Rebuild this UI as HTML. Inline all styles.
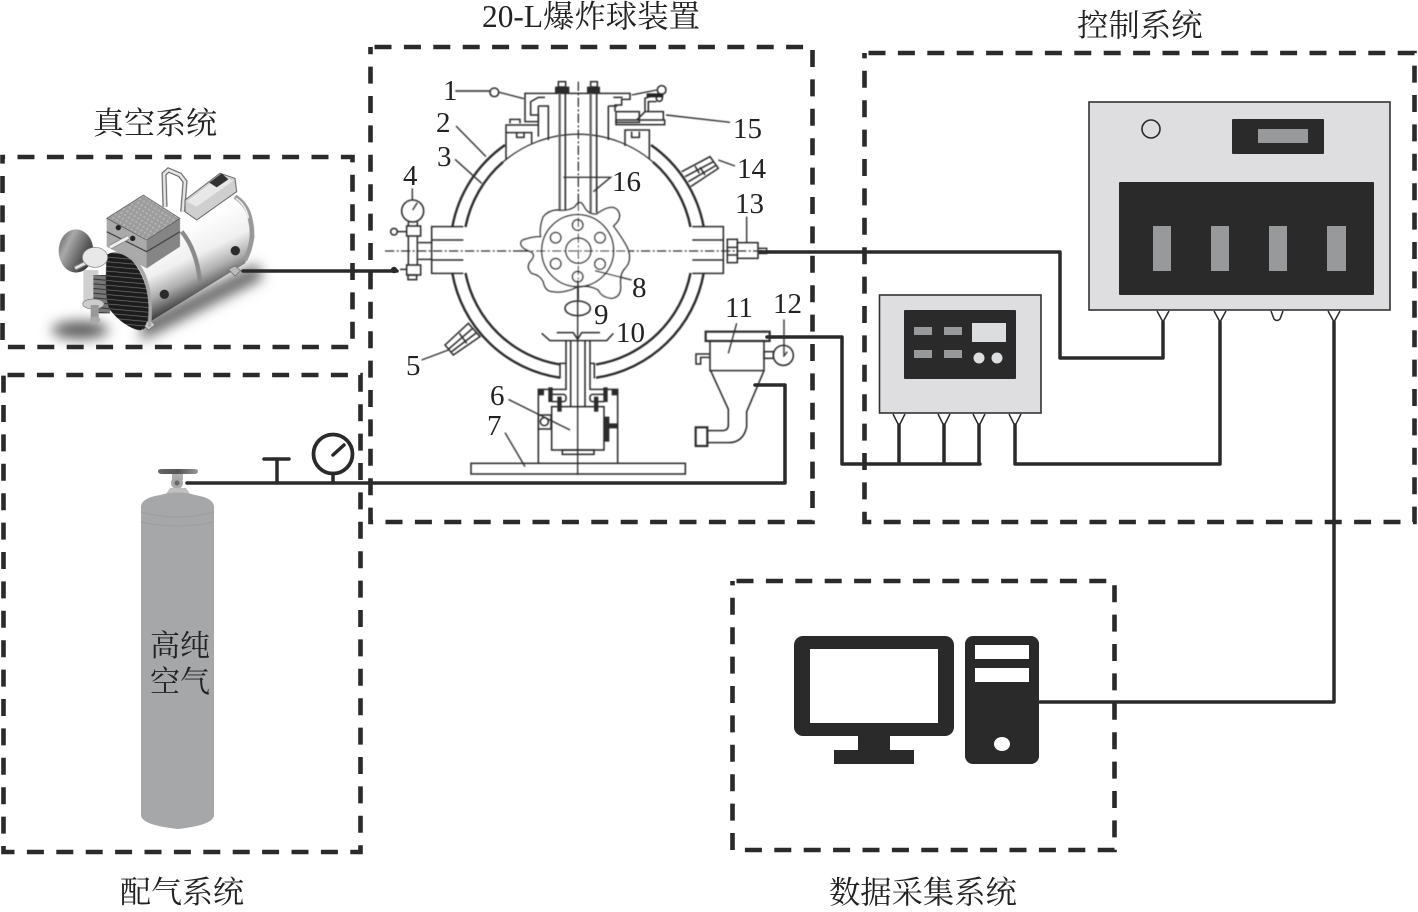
<!DOCTYPE html>
<html><head><meta charset="utf-8"><style>
html,body{margin:0;padding:0;background:#fff}
svg{display:block}
.cn{font-family:"Liberation Serif","Noto Serif CJK SC",serif;font-size:30px;fill:#222}
.n{font-family:"Liberation Serif",serif;font-size:29px;fill:#222}
.d{fill:none;stroke:#2b2a2b;stroke-width:4.6;stroke-dasharray:17 12.4}
.w{fill:none;stroke:#2b2a2b;stroke-width:3.5;stroke-linecap:round;stroke-linejoin:round}
.t{fill:none;stroke:#2b2b2b;stroke-width:4.6}
.t2{fill:none;stroke:#2b2b2b;stroke-width:6.5}
.l{fill:none;stroke:#333;stroke-width:4.2}
.y{fill:#fff;stroke:#2b2a2b;stroke-width:1.5}
.k{fill:#2b2a2b}
.g{fill:#98999b}
</style></head><body>
<svg xmlns="http://www.w3.org/2000/svg" width="1418" height="912" viewBox="0 0 1418 912">
<defs>
<filter id="b" x="-60%" y="-100%" width="220%" height="300%"><feGaussianBlur stdDeviation="20"/></filter>
<filter id="s"><feGaussianBlur stdDeviation="0.4"/></filter>
<linearGradient id="mot" gradientUnits="userSpaceOnUse" x1="530" y1="240" x2="625" y2="440">
<stop offset="0" stop-color="#fff"/><stop offset=".42" stop-color="#f0f0f0"/><stop offset=".68" stop-color="#b0b0b0"/><stop offset="1" stop-color="#2e2e2e"/></linearGradient>
<linearGradient id="gau" x1="0" y1="0" x2="1" y2=".6"><stop offset="0" stop-color="#555"/><stop offset=".35" stop-color="#aaa"/><stop offset=".7" stop-color="#666"/><stop offset="1" stop-color="#333"/></linearGradient>
<linearGradient id="hd" x1="0" x2="1" y1="0" y2="0"><stop offset="0" stop-color="#666"/><stop offset=".5" stop-color="#555"/><stop offset="1" stop-color="#999"/></linearGradient>
<pattern id="gr" width="14" height="14" patternUnits="userSpaceOnUse" patternTransform="rotate(5)"><rect width="14" height="14" fill="#1f1f1f"/><rect y="11" width="14" height="2" fill="#777"/></pattern>
<pattern id="gr2" width="14" height="14" patternUnits="userSpaceOnUse" patternTransform="rotate(5)"><rect width="14" height="14" fill="#777"/><rect y="10" width="14" height="3" fill="#333"/></pattern>
<pattern id="dots" width="13" height="13" patternUnits="userSpaceOnUse" patternTransform="rotate(32)"><rect width="13" height="13" fill="#9c9c9c"/><circle cx="6" cy="6" r="3.5" fill="#b5b5b5"/></pattern>
</defs>

<!-- titles -->
<text x="482" y="27" class="cn" style="font-size:31.4px">20-L爆炸球装置</text>
<text x="1077" y="36" class="cn" style="font-size:31.4px">控制系统</text>
<text x="93" y="134" class="cn" style="font-size:31px">真空系统</text>
<text x="120" y="903" class="cn" style="font-size:31px">配气系统</text>
<text x="829" y="903" class="cn" style="font-size:31.3px">数据采集系统</text>

<!-- pump -->
<g transform="translate(0,150) scale(.33333)" filter="url(#s)">
<ellipse cx="240" cy="540" rx="85" ry="26" fill="#555" filter="url(#b)"/>
<polygon points="420,575 790,385 770,340 430,510" fill="#666" filter="url(#b)"/>
<path d="M400,330 L540,235 L700,140 L745,170 L765,260 L735,340 L450,515 L430,540 Z" fill="url(#mot)"/>
<path d="M705,140 Q745,165 752,215 Q765,270 735,330" fill="none" stroke="#999" stroke-width="14"/>
<path d="M708,145 Q738,165 745,205" fill="none" stroke="#eee" stroke-width="5"/>
<path d="M545,245 Q590,300 600,395" fill="none" stroke="#8a8a8a" stroke-width="13"/>
<circle cx="493" cy="433" r="14" fill="#2a2a2a"/><circle cx="706" cy="302" r="14" fill="#2a2a2a"/>
<polygon points="685,358 705,348 722,362 705,378" fill="#bbb" stroke="#666" stroke-width="2"/>
<polygon points="430,525 450,508 465,525 445,540" fill="#ccc" stroke="#666" stroke-width="2"/>
<path d="M495,170 L492,72 L505,60 L540,75 L555,95 L548,185" fill="none" stroke="#666" stroke-width="15"/>
<path d="M495,170 L492,72 L505,60 L540,75 L555,95 L548,185" fill="none" stroke="#e5e5e5" stroke-width="8"/>
<polygon points="555,150 660,70 705,85 710,125 590,210 555,185" fill="#cfcfcf" stroke="#666" stroke-width="3"/>
<polygon points="560,155 660,78 700,92 590,170" fill="#e8e8e8"/>
<polygon points="628,98 665,70 685,88 650,112" fill="#333"/>
<polygon points="320,205 440,270 440,355 320,290" fill="#aaa"/>
<polygon points="440,270 540,205 540,290 440,355" fill="#858585"/>
<path d="M320,245 L440,305 L540,245" fill="none" stroke="#444" stroke-width="4"/>
<polygon points="320,205 430,135 540,205 440,270" fill="url(#dots)" stroke="#555" stroke-width="2"/>
<circle cx="355" cy="233" r="8" fill="#222"/><circle cx="398" cy="265" r="8" fill="#222"/>
<path d="M330,292 L385,262" stroke="#888" stroke-width="14"/><path d="M330,292 L385,262" stroke="#eee" stroke-width="9"/>
<rect x="250" y="360" width="45" height="110" fill="#d0d0d0"/>
<path d="M280,375 H330 V490 H280 Z" fill="url(#gr2)"/>
<path d="M320,315 Q345,295 390,325 Q435,370 445,450 Q450,530 420,542 Q370,530 330,480 Q312,450 320,315Z" fill="url(#gr)"/>
<path d="M350,303 Q405,315 432,375 Q458,440 448,530" fill="none" stroke="#a8a8a8" stroke-width="10"/>
<ellipse cx="228" cy="303" rx="52" ry="65" fill="url(#gau)"/>
<path d="M225,355 L275,330" stroke="#777" stroke-width="15"/><path d="M225,355 L275,330" stroke="#e5e5e5" stroke-width="8"/>
<ellipse cx="285" cy="322" rx="38" ry="30" fill="#e8e8e8" stroke="#777" stroke-width="2"/>
<ellipse cx="280" cy="462" rx="32" ry="15" fill="#ccc" stroke="#777" stroke-width="2"/>
<rect x="272" y="465" width="24" height="40" fill="#999"/><ellipse cx="285" cy="510" rx="16" ry="10" fill="#aaa"/>
</g>

<!-- sphere -->
<g filter="url(#s)">
<g fill="none" stroke="#2b2b2b" stroke-width="2.4">
<path d="M505,145 A128,128 0 0 0 452.3,227"/>
<path d="M651,145 A128,128 0 0 1 703.7,227"/>
<path d="M452.3,273 A128,128 0 0 0 560,377.7"/>
<path d="M703.7,273 A128,128 0 0 1 596,377.7"/>
<path d="M465.5,227 A115,115 0 0 1 503,162" />
<path d="M690.5,227 A115,115 0 0 0 653,162"/>
<path d="M465.5,273 A115,115 0 0 0 560,364.5"/>
<path d="M690.5,273 A115,115 0 0 1 596,364.5"/>
</g>
<path d="M503,162 A115,115 0 0 1 653,162" fill="none" stroke="#333" stroke-width="1.3"/>

<g transform="translate(380,60) scale(.33333)">
<path d="M15,573 H1150" fill="none" stroke="#333" stroke-width="4" stroke-dasharray="28 7 6 7"/>
<path d="M595,65 V720" fill="none" stroke="#333" stroke-width="4" stroke-dasharray="28 7 6 7"/>
<path class="t" d="M435,118 V100 H750 V118 H725 V135 H705 V155"/>
<path class="t" d="M435,118 V185 H475 V165 H452 V125 L475,112 H495"/>
<path class="t" d="M475,138 H505 V240 M475,138 V230 M685,138 V240 M685,138 H712 M700,112 L728,112"/>
<path class="t" d="M378,298 V195 H475 M378,218 H455 V250 M410,218 V232 H432 V218 M390,190 V178 H420 V190"/>
<path class="t" d="M808,298 V210 H735 V258 M755,215 V232 H778 V215"/>
<rect class="t" x="708" y="155" width="70" height="32"/><rect class="t" x="708" y="180" width="146" height="14"/>
<path class="t" d="M770,180 L795,155 H850 V180 M795,155 V115 L815,108 H838 M805,155 V125 H830"/>
<circle class="t" cx="845" cy="90" r="13"/><circle class="t" cx="838" cy="115" r="9"/>
<rect x="800" y="100" width="50" height="12" fill="#222"/>
<path class="l" d="M755,105 L830,90"/>
<rect class="t" x="535" y="65" width="22" height="16"/><rect class="t" x="632" y="65" width="20" height="16"/>
<rect class="k" x="525" y="80" width="43" height="21"/><rect class="k" x="621" y="80" width="39" height="21"/>
<path d="M539,100 V450 M632,100 V458" stroke="#666" stroke-width="7" fill="none"/>
<path d="M556,100 V450 M650,100 V458" stroke="#333" stroke-width="5" fill="none"/>
<circle class="t" cx="98" cy="453" r="33"/><path class="l" d="M98,450 L112,428"/>
<rect class="t" x="80" y="498" width="42" height="30"/><rect class="t" x="80" y="615" width="42" height="30"/><rect class="t" x="84" y="645" width="26" height="14"/>
<path class="t" d="M85,486 V498 M112,486 V498 M85,528 V615 M112,528 V615 M50,515 H80 M60,628 H80"/>
<circle class="t" cx="42" cy="515" r="10"/>
<path class="t" d="M115,548 H155 M115,598 H155"/>
<path class="t" d="M250,500 H155 V640 H250 M155,540 H250 M155,600 H250"/>
<path class="t" d="M937,500 H1030 V640 H937 M937,540 H1030 M937,600 H1030"/>
<rect class="t" x="1042" y="538" width="30" height="70"/><path class="t" d="M1042,562 H1072 M1042,585 H1072"/>
<rect class="t" x="1072" y="548" width="62" height="47"/><path class="t" d="M1134,565 H1160 V580 H1134"/>
<path class="t" d="M905,335 L990,290 L1015,325 L932,380 M915,350 L1000,305 M925,365 L1010,315 M945,318 L958,340 M975,345 L960,322"/>
<path d="M530,450 Q565,455 585,440 Q600,415 612,440 Q625,465 650,462 Q695,430 712,450 Q730,472 700,498 Q720,525 735,550 Q762,595 735,625 Q718,640 722,680 Q722,712 695,715 Q665,712 655,690 Q625,672 590,682 Q550,700 520,695 Q495,695 490,665 Q480,645 455,640 Q435,620 455,600 Q470,580 445,572 Q415,560 425,542 Q450,530 482,530 Q478,500 490,470 Q505,452 530,450Z" fill="#fff" stroke="#2b2b2b" stroke-width="4.2"/>
<path d="M595,425 V720" fill="none" stroke="#333" stroke-width="3.5" stroke-dasharray="28 7 6 7"/>
<path d="M420,573 H760" fill="none" stroke="#333" stroke-width="3.5" stroke-dasharray="28 7 6 7"/>
<circle class="t" cx="593" cy="572" r="108"/><circle class="t" cx="595" cy="572" r="38"/>
<circle class="t" cx="593" cy="495" r="16"/><circle class="t" cx="660" cy="533" r="16"/><circle class="t" cx="660" cy="612" r="16"/><circle class="t" cx="593" cy="650" r="16"/><circle class="t" cx="527" cy="611" r="16"/><circle class="t" cx="527" cy="533" r="16"/>
<path d="M226,93 H330" stroke="#555" stroke-width="6" fill="none"/><circle class="t" cx="343" cy="97" r="13"/>
<path class="l" d="M358,97 L432,116 M228,198 L318,290 M225,298 L305,370 M97,385 V420 M858,165 L1050,187 M1015,300 L1065,318 M550,352 H692 L640,395 M1100,470 V546 M645,632 L755,660"/>
</g>

<g transform="translate(400,280) scale(.33333)">
<ellipse class="t" cx="533" cy="85" rx="38" ry="22"/>
<path class="l" d="M533,0 V585"/>
<path class="t" d="M425,160 L450,182 H620 L640,160 M470,158 H520 L533,178 L545,158 H600"/>
<path class="t" d="M498,182 V330 M512,182 V380 M555,182 V380 M570,182 V330"/>
<path class="t" d="M480,295 V250 H498 M583,295 V250 H570"/>
<path class="l" d="M65,240 L145,210 M325,358 L510,450 M315,458 L375,560 M1010,130 L985,220 M1152,118 V225"/>
<path class="t" d="M135,195 L205,130 L240,170 L160,225 Z M145,208 L218,145 M155,215 L230,158 M178,160 L200,190"/>
<rect class="t" x="213" y="550" width="643" height="32"/>
<path class="t" d="M415,550 V328 H500 M653,550 V328 H570"/>
<rect class="k" x="415" y="328" width="17" height="18"/><rect class="k" x="635" y="328" width="18" height="18"/>
<rect class="t" x="415" y="405" width="38" height="42"/><circle class="t" cx="433" cy="425" r="12"/>
<rect class="t" x="455" y="380" width="157" height="130"/><rect class="t" x="487" y="510" width="95" height="13"/>
<rect class="t" x="450" y="343" width="48" height="22" rx="8"/><rect class="t" x="570" y="343" width="48" height="22" rx="8"/>
<rect class="k" x="445" y="322" width="13" height="44"/><rect class="k" x="472" y="350" width="13" height="45"/><rect class="k" x="582" y="350" width="13" height="45"/><rect class="k" x="610" y="322" width="13" height="44"/>
<path class="k" d="M612,410 H628 V430 H652 V445 H628 V485 H612Z"/>
<rect class="t2" x="917" y="155" width="192" height="28"/>
<path class="t" d="M930,183 V272 H1092 V183"/>
<path class="t" d="M932,272 L985,388 V435 Q985,452 965,452 H922 M1092,272 L1040,395 V440 Q1030,488 985,488 H922"/>
<rect class="t2" x="887" y="442" width="35" height="56"/>
<path class="t" d="M930,222 H888 V252 H902 V232 H930"/>
<circle class="t" cx="1150" cy="226" r="30"/><rect class="t" x="1092" y="215" width="28" height="20"/>
<path class="l" d="M1150,230 L1162,215"/>
</g>
</g>

<!-- numbers -->
<text class="n" x="443" y="100">1</text><text class="n" x="436" y="132">2</text><text class="n" x="437" y="166">3</text><text class="n" x="403" y="185">4</text>
<text class="n" x="733" y="138">15</text><text class="n" x="737" y="178">14</text><text class="n" x="735" y="213">13</text><text class="n" x="612" y="191">16</text>
<text class="n" x="632" y="297">8</text><text class="n" x="594" y="324">9</text><text class="n" x="616" y="342">10</text><text class="n" x="725" y="317">11</text><text class="n" x="773" y="313">12</text>
<text class="n" x="406" y="375">5</text><text class="n" x="490" y="405">6</text><text class="n" x="487" y="435">7</text>

<!-- controller small -->
<rect x="879.5" y="295" width="161.5" height="118" fill="#dedddf" stroke="#333" stroke-width="1.6"/>
<rect x="904" y="310" width="112" height="69" rx="1" class="k"/>
<rect x="914" y="327" width="18" height="8" class="g"/><rect x="944" y="327" width="18" height="8" class="g"/>
<rect x="914" y="350" width="18" height="8" class="g"/><rect x="944" y="350" width="18" height="8" class="g"/>
<rect x="972" y="323" width="34" height="19" fill="#dcddde"/>
<circle cx="979" cy="358" r="5.5" fill="#dcddde"/><circle cx="997" cy="358" r="5.5" fill="#dcddde"/>

<!-- controller large -->
<rect x="1089" y="102" width="301" height="208" fill="#dedddf" stroke="#333" stroke-width="1.6"/>
<circle cx="1151" cy="129" r="9" fill="#dcddde" stroke="#2b2a2b" stroke-width="1.6"/>
<rect x="1232" y="119" width="92" height="35" rx="1" class="k"/><rect x="1258" y="129" width="50" height="14" class="g"/>
<rect x="1119" y="182" width="255" height="113" rx="1" class="k"/>
<rect x="1153" y="226" width="18" height="45" class="g"/><rect x="1211" y="226" width="18" height="45" class="g"/><rect x="1269" y="226" width="18" height="45" class="g"/><rect x="1327" y="226" width="19" height="45" class="g"/>

<!-- Y connectors -->
<path class="y" d="M893,414 L899,426 L905,414 M938,414 L944,426 L950,414 M973,414 L979,426 L985,414 M1009,414 L1015,426 L1021,414"/>
<path class="y" d="M1157,311 L1163,322 L1169,311 M1214,311 L1220,322 L1226,311 M1271,311 L1274,319 Q1277,322 1280,319 L1283,311 M1328,311 L1334,322 L1340,311"/>

<!-- wires -->
<path class="w" d="M243,271 H397"/>
<circle cx="394" cy="270" r="3.2" class="k"/>
<path class="w" d="M760,252 H1060 V358 H1163 V322"/>
<path class="w" d="M767,337 H842 V464 H980 M899,425 V464 M944,425 V464 M979,425 V464"/>
<path class="w" d="M1015,425 V464 H1220 V322"/>
<path class="w" d="M1334,322 V702 H1040"/>
<path class="w" d="M755,385 H785 V483 H187"/>
<path class="w" d="M277,483 V459 M264,459 H289 M333,483 V473"/>
<circle cx="333" cy="454" r="19.5" fill="#fff" stroke="#2b2a2b" stroke-width="3.8"/>
<path class="w" d="M333,455 L344,445"/>

<!-- cylinder -->
<path d="M158,471 Q158,469 162,469 H194 Q198,469 198,471 Q198,474 194,474 H162 Q158,474 158,471Z" fill="url(#hd)"/>
<rect x="172" y="474" width="11" height="6" fill="#b0b0b0"/>
<circle cx="177" cy="483" r="6" fill="#a8a8a8"/><circle cx="177" cy="483" r="2.5" fill="#666"/>
<path d="M170,488 H186 L190,494 H166Z" fill="#c0c0c0"/>
<path d="M141,507 Q141,498 160,495 Q178,490 195,495 Q214,498 214,507 V815 Q214,825 178,829 Q141,825 141,815Z" fill="#a6a7a9"/>
<path d="M141,512 Q178,522 214,512 M141,522 Q178,530 214,522" fill="none" stroke="#9c9d9f" stroke-width="1"/>
<text x="150" y="656" class="cn">高纯</text>
<text x="150" y="692" class="cn">空气</text>

<!-- computer -->
<rect x="794" y="636" width="160" height="100" rx="9" class="k"/>
<rect x="810" y="649" width="128" height="74" fill="#fff"/>
<rect x="858" y="736" width="32" height="15" class="k"/><rect x="834" y="750" width="80" height="14" class="k"/>
<rect x="965" y="636" width="74" height="128" rx="8" class="k"/>
<rect x="975" y="645" width="54" height="14" fill="#fff"/><rect x="975" y="668" width="54" height="14" fill="#fff"/>
<ellipse cx="1002" cy="744" rx="8" ry="7" fill="#fff"/>

<!-- dashed boxes -->
<rect class="d" x="2.5" y="157" width="350" height="190" stroke-dashoffset="-15"/>
<rect class="d" x="370.5" y="47" width="442" height="475" stroke-dashoffset="-4"/>
<rect class="d" x="864.5" y="53" width="550" height="469" stroke-dashoffset="-4"/>
<rect class="d" x="3.5" y="375" width="357" height="477" stroke-dashoffset="-4"/>
<rect class="d" x="732.5" y="581" width="382" height="269" stroke-dashoffset="-4"/>
</svg>
</body></html>
